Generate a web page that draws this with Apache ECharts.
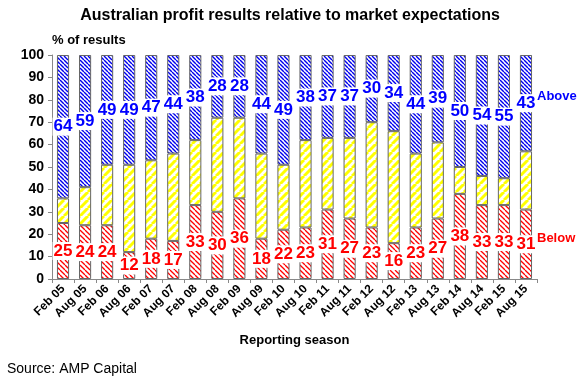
<!DOCTYPE html>
<html>
<head>
<meta charset="utf-8">
<script src="https://cdn.jsdelivr.net/npm/echarts@6/dist/echarts.min.js"></script>
<style>
  html, body { margin: 0; padding: 0; background: #fff; }
  #chart { width: 580px; height: 390px; }
</style>
</head>
<body>
<div id="chart"></div>
<script>
const seasons = ['Feb 05', 'Aug 05', 'Feb 06', 'Aug 06', 'Feb 07', 'Aug 07', 'Feb 08', 'Aug 08', 'Feb 09', 'Aug 09',
  'Feb 10', 'Aug 10', 'Feb 11', 'Aug 11', 'Feb 12', 'Aug 12', 'Feb 13', 'Aug 13', 'Feb 14', 'Aug 14', 'Feb 15', 'Aug 15'];
const above = [64, 59, 49, 49, 47, 44, 38, 28, 28, 44, 49, 38, 37, 37, 30, 34, 44, 39, 50, 54, 55, 43];
const below = [25, 24, 24, 12, 18, 17, 33, 30, 36, 18, 22, 23, 31, 27, 23, 16, 23, 27, 38, 33, 33, 31];
const inLine = below.map((b, i) => 100 - b - above[i]);
const yTicks = [0, 10, 20, 30, 40, 50, 60, 70, 80, 90, 100];

const FONT = '"Liberation Sans", Arial, sans-serif';

// hatch fills drawn on small tiles
const makeHatch = (size, color, width, dir) => {
  const c = document.createElement('canvas');
  c.width = size;
  c.height = size;
  const ctx = c.getContext('2d');
  ctx.fillStyle = '#fff';
  ctx.fillRect(0, 0, size, size);
  ctx.strokeStyle = color;
  ctx.lineWidth = width;
  for (let k = -1; k <= 1; k++) {
    ctx.beginPath();
    if (dir === 'back') {
      ctx.moveTo(k * size, 0);
      ctx.lineTo(k * size + size, size);
    } else {
      ctx.moveTo(k * size, size);
      ctx.lineTo(k * size + size, 0);
    }
    ctx.stroke();
  }
  return { image: c, repeat: 'repeat' };
};

const redFill = makeHatch(5, '#ff0000', 1.3, 'back');
const blueFill = makeHatch(4, '#0000ee', 1.4, 'back');
const yellowFill = makeHatch(8, '#ffff00', 3, 'fwd');

const chart = echarts.init(document.getElementById('chart'), null, { renderer: 'canvas' });

const labelBase = {
  show: true,
  position: 'inside',
  fontFamily: FONT,
  fontSize: 17,
  fontWeight: 'bold',
  backgroundColor: '#fff',
  padding: [1, 1, 0, 1],
};

chart.setOption({
  animation: false,
  textStyle: { fontFamily: FONT },
  title: {
    text: 'Australian profit results relative to market expectations',
    left: 'center',
    top: 3,
    textStyle: { fontFamily: FONT, fontSize: 16, fontWeight: 'bold', color: '#000' },
  },
  grid: { left: 52, right: 43, top: 55, bottom: 111 },
  xAxis: {
    type: 'category',
    data: seasons,
    name: 'Reporting season',
    nameLocation: 'middle',
    nameGap: 55,
    nameTextStyle: { fontFamily: FONT, fontSize: 13, fontWeight: 'bold', color: '#000' },
    axisLine: { lineStyle: { color: '#888' } },
    axisTick: { show: true, length: 4, lineStyle: { color: '#888' } },
    axisLabel: {
      interval: 0,
      hideOverlap: false,
      rotate: 45,
      margin: 8,
      fontFamily: FONT,
      fontSize: 12,
      fontWeight: 'bold',
      color: '#000',
    },
  },
  yAxis: {
    type: 'value',
    min: 0,
    max: 100,
    interval: 10,
    name: '% of results',
    nameLocation: 'end',
    nameGap: 8,
    nameTextStyle: { fontFamily: FONT, fontSize: 13, fontWeight: 'bold', color: '#000', align: 'left' },
    axisLine: { show: true, lineStyle: { color: '#888' } },
    axisTick: { show: true, length: 4, lineStyle: { color: '#888' } },
    splitLine: { show: false },
    axisLabel: {
      fontFamily: FONT,
      fontSize: 14,
      fontWeight: 'bold',
      color: '#000',
      margin: 8,
      formatter: (v) => (yTicks.includes(v) ? String(v) : ''),
    },
  },
  series: [
    {
      name: 'Below',
      type: 'bar',
      stack: 'all',
      barWidth: '55%',
      data: below,
      itemStyle: { color: redFill, borderColor: '#666', borderWidth: 1 },
      label: { ...labelBase, color: '#ff0000' },
      z: 2,
    },
    {
      name: 'In line',
      type: 'bar',
      stack: 'all',
      data: inLine,
      itemStyle: { color: yellowFill, borderColor: '#666', borderWidth: 1 },
      z: 2,
    },
    {
      name: 'Above',
      type: 'bar',
      stack: 'all',
      data: above,
      itemStyle: { color: blueFill, borderColor: '#666', borderWidth: 1 },
      label: { ...labelBase, color: '#0000ff' },
      z: 2,
    },
  ],
  graphic: [
    {
      type: 'text',
      left: 537,
      top: 90,
      style: { text: 'Above', fill: '#0000ff', font: 'bold 13px ' + FONT },
    },
    {
      type: 'text',
      left: 537,
      top: 232,
      style: { text: 'Below', fill: '#ff0000', font: 'bold 13px ' + FONT },
    },
    {
      type: 'text',
      left: 7,
      top: 362,
      style: { text: 'Source: AMP Capital', fill: '#000', font: '14px ' + FONT },
    },
  ],
});
</script>
</body>
</html>
